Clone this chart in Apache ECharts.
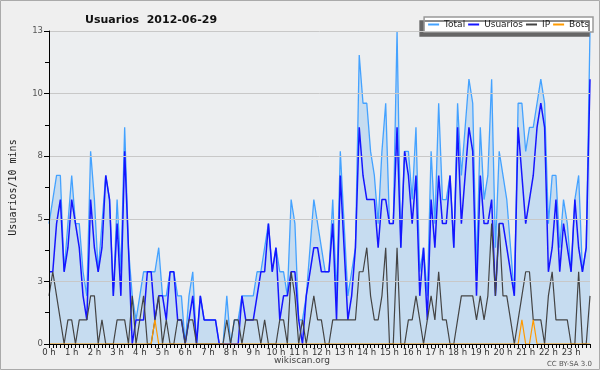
<!DOCTYPE html>
<html><head><meta charset="utf-8">
<script src="https://cdn.jsdelivr.net/npm/echarts@6/dist/echarts.min.js"></script>
<style>html,body{margin:0;padding:0;background:#efefef}#c{width:600px;height:370px}</style>
</head><body><div id="c"></div>
<script>
const hourLabels = ["0 h","1 h","2 h","3 h","4 h","5 h","6 h","7 h","8 h","9 h","10 h","11 h","12 h","13 h","14 h","15 h","16 h","17 h","18 h","19 h","20 h","21 h","22 h","23 h"];
const yTickLabels = ["0","3","5","8","10","13"];
const seriesNames = ["Total","Usuarios","IP","Bots"];
const total = [5,6,7,7,3,5,7,5,5,3, 2,8,6,3,5,7,6,2,6,3, 9,4,2,1,2,3,3,3,3,4, 2,2,3,3,2,2,0,2,3,0, 2,1,1,1,1,0,0,2,0,1,
 1,2,2,2,2,3,3,4,5,3, 4,3,3,2,6,5,1,1,2,4, 6,5,4,3,3,6,2,8,5,2, 3,4,12,10,10,8,7,5,8,10, 5,5,13,4,8,8,6,9,3,4,
 2,8,5,10,6,6,7,4,10,7, 9,11,10,3,9,6,7,11,4,8, 7,6,4,2,10,10,8,9,9,10, 11,10,5,7,7,4,6,5,3,6, 7,3,4,13];
const usuarios = [3,3,5,6,3,4,6,5,4,2, 1,6,4,3,4,7,6,2,5,2, 8,4,0,1,1,1,3,3,1,2, 2,1,3,3,1,1,0,1,2,0, 2,1,1,1,1,0,0,0,0,0,
 0,2,1,1,1,2,3,3,5,3, 4,1,2,2,3,3,1,0,2,3, 4,4,3,3,3,5,1,7,4,1, 2,4,9,7,6,6,6,4,6,6, 5,5,9,4,8,7,5,7,2,4,
 1,6,4,7,5,5,7,4,9,5, 7,9,8,2,7,5,5,6,2,5, 5,4,3,2,9,7,5,6,7,9, 10,9,3,4,6,3,5,4,3,6, 4,3,4,11];
const ip = [2,3,2,1,0,1,1,0,1,1, 1,2,2,0,1,0,0,0,1,1, 1,0,2,0,1,2,0,0,1,2, 0,1,0,0,1,1,0,1,1,0, 0,0,0,0,0,0,0,1,0,1,
 1,0,1,1,1,1,0,1,0,0, 0,1,1,0,3,2,0,1,0,1, 2,1,1,0,0,1,1,1,1,1, 1,1,3,3,4,2,1,1,2,4, 0,0,4,0,0,1,1,2,1,0,
 1,2,1,3,1,1,0,0,1,2, 2,2,2,1,2,1,2,5,2,5, 2,2,1,0,1,2,3,3,1,1, 1,0,2,3,1,1,1,1,0,0, 3,0,0,2];
const bots = [0,0,0,0,0,0,0,0,0,0, 0,0,0,0,0,0,0,0,0,0, 0,0,0,0,0,0,0,0,1,0, 0,0,0,0,0,0,0,0,0,0, 0,0,0,0,0,0,0,0,0,0,
 0,0,0,0,0,0,0,0,0,0, 0,0,0,0,0,0,0,0,0,0, 0,0,0,0,0,0,0,0,0,0, 0,0,0,0,0,0,0,0,0,0, 0,0,0,0,0,0,0,0,0,0,
 0,0,0,0,0,0,0,0,0,0, 0,0,0,0,0,0,0,0,0,0, 0,0,0,0,0,1,0,0,1,0, 0,0,0,0,0,0,0,0,0,0, 0,0,0,0];

const categories = [];
for (let h = 0; h < hourLabels.length; h++) for (let m = 0; m < 6; m++) categories.push(m === 0 ? hourLabels[h] : "");

const chart = echarts.init(document.getElementById('c'), null, {renderer: 'canvas'});
chart.setOption({
  animation: false,
  backgroundColor: '#efefef',
  title: {text: 'Usuarios  2012-06-29', left: 80, top: 10,
    textStyle: {fontFamily: 'DejaVu Sans', fontWeight: 'bold', fontSize: 11, color: '#111'}},
  legend: {data: seriesNames, right: 7, top: 17, padding: [3, 4, 3, 4], itemGap: 3, itemWidth: 11, itemHeight: 2,
    icon: 'rect', backgroundColor: '#ffffff', borderColor: '#999', borderWidth: 1.5,
    shadowColor: '#666', shadowOffsetX: -4, shadowOffsetY: 4, shadowBlur: 0,
    textStyle: {fontFamily: 'DejaVu Sans', fontSize: 9, color: '#222'}},
  grid: {left: 46, right: 10, top: 31, bottom: 26, show: true, backgroundColor: '#eceef0', borderWidth: 0},
  xAxis: {type: 'category', data: categories, boundaryGap: false, z: 10,
    axisLine: {lineStyle: {color: '#000', width: 1}},
    axisTick: {interval: 0, length: 4, lineStyle: {color: '#000'}},
    axisLabel: {interval: 5, fontFamily: 'DejaVu Sans', fontSize: 8.5, color: '#333', margin: 4}},
  yAxis: {type: 'value', min: 0, max: 13, interval: 2.6, z: 10,
    name: 'Usuarios/10 mins', nameLocation: 'middle', nameRotate: 90, nameGap: 31,
    nameTextStyle: {fontFamily: 'DejaVu Sans Mono', fontSize: 10, color: '#222'},
    axisLine: {show: true, lineStyle: {color: '#000'}},
    axisTick: {show: true, length: 5, lineStyle: {color: '#000'}},
    minorTick: {show: true, splitNumber: 2, length: 4, lineStyle: {color: '#000'}},
    axisLabel: {fontFamily: 'DejaVu Sans', fontSize: 8.5, color: '#555', margin: 6,
      formatter: (v) => yTickLabels[Math.round(v / 2.6)]},
    splitLine: {lineStyle: {color: '#c8c8c8'}}},
  series: [
    {name: seriesNames[0], type: 'line', data: total, symbol: 'none',
      lineStyle: {color: '#44a2ff', width: 1.3}, itemStyle: {color: '#44a2ff'},
      areaStyle: {color: '#c6dcf0', opacity: 1}},
    {name: seriesNames[1], type: 'line', data: usuarios, symbol: 'none',
      lineStyle: {color: '#1515ff', width: 1.5}, itemStyle: {color: '#1515ff'}},
    {name: seriesNames[2], type: 'line', data: ip, symbol: 'none',
      lineStyle: {color: '#444', width: 1.2}, itemStyle: {color: '#444'}},
    {name: seriesNames[3], type: 'line', data: bots, symbol: 'none',
      lineStyle: {color: '#ff9a00', width: 1.2}, itemStyle: {color: '#ff9a00'}}
  ],
  graphic: [
    {type: 'rect', shape: {x: 0.5, y: 0.5, width: 599, height: 369}, style: {fill: 'none', stroke: '#aaa', lineWidth: 1}, z: 100},
    {type: 'text', x: 302, y: 361, style: {text: 'wikiscan.org', fontFamily: 'DejaVu Sans', fontSize: 9, fill: '#444', align: 'center', verticalAlign: 'middle'}},
    {type: 'text', x: 592, y: 364, style: {text: 'CC BY-SA 3.0', fontFamily: 'DejaVu Sans', fontSize: 7, fill: '#555', align: 'right', verticalAlign: 'middle'}}
  ]
});
</script></body></html>
